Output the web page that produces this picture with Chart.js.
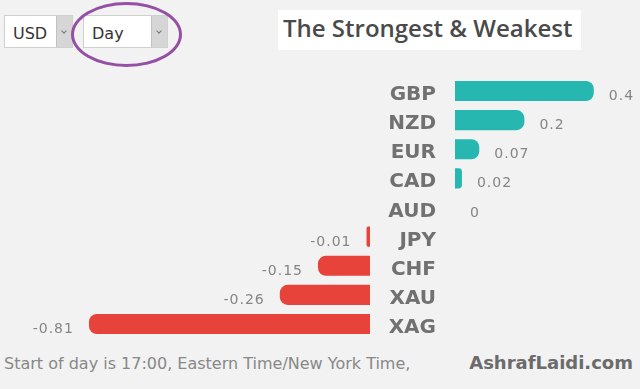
<!DOCTYPE html>
<html>
<head>
<meta charset="utf-8">
<script src="https://cdn.jsdelivr.net/npm/chart.js@4.4.1/dist/chart.umd.min.js"></script>
<style>
  body { margin: 0; width: 640px; height: 389px; overflow: hidden; position: relative; background: #f2f2f2; font-family: "DejaVu Sans", sans-serif; }
  .sel { position: absolute; top: 15px; height: 33px; background: #fff; border: 1px solid #d0d0d0; box-sizing: border-box; font-size: 16px; color: #333; line-height: 31px; padding: 2px 0 0 8px; }
  .sel .btn { position: absolute; top: 0; right: 0; width: 15px; height: 31px; background: #d6d6d6; border-left: 1px solid #c2c2c2; }
  .sel .btn i { position: absolute; left: 5px; top: 13px; width: 3px; height: 3px; border-right: 1px solid #777; border-bottom: 1px solid #777; transform: rotate(45deg); }
  #ring { position: absolute; left: 71px; top: 2px; width: 111px; height: 65px; border: 3px solid #9550a5; border-radius: 50%; box-sizing: border-box; }
  #title { position: absolute; left: 278px; top: 10px; width: 303px; height: 40px; background: #fff; font-family: "Open Sans", sans-serif; font-weight: 600; font-size: 24px; line-height: 36px; color: #4a4a4a; padding-left: 5px; box-sizing: border-box; white-space: nowrap; overflow: hidden; }
  #note { position: absolute; left: 4px; top: 354px; font-size: 16px; line-height: 20px; color: #888; white-space: nowrap; }
  #site { position: absolute; right: 7px; top: 352px; font-size: 18px; line-height: 22px; font-weight: bold; color: #6b6b6b; white-space: nowrap; }
  canvas { position: absolute; left: 0; top: 0; }
</style>
</head>
<body>
<div class="sel" style="left:4px; width:69px;">USD<div class="btn"><i></i></div></div>
<div class="sel" style="left:83px; width:85px;">Day<div class="btn"><i></i></div></div>
<div id="ring"></div>
<div id="title">The Strongest &amp; Weakest</div>
<div id="note">Start of day is 17:00, Eastern Time/New York Time,</div>
<div id="site">AshrafLaidi.com</div>
<canvas id="myChart" width="640" height="389"></canvas>
<script>
const currencies = ["GBP", "NZD", "EUR", "CAD", "AUD", "JPY", "CHF", "XAU", "XAG"];
const changes = [0.4, 0.2, 0.07, 0.02, 0, -0.01, -0.15, -0.26, -0.81];

const gains = changes.map(v => (v >= 0 ? v : null));
const losses = changes.map(v => (v < 0 ? v : null));

// widths of the three horizontal strips (negative bars | labels | positive bars)
const pxPerUnit = 347;
const negWidth = 370;
const gapWidth = 85;
const posWidth = 185;

const sideLabels = {
  id: "sideLabels",
  afterDatasetsDraw(chart) {
    const ctx = chart.ctx;
    const yScale = chart.scales.y;
    const gap = chart.scales.xGap;
    ctx.save();
    currencies.forEach((name, i) => {
      const cy = yScale.getPixelForValue(i);
      ctx.textBaseline = "alphabetic";
      ctx.letterSpacing = "0px";
      ctx.font = "bold 20px 'DejaVu Sans'";
      ctx.fillStyle = "#717171";
      ctx.textAlign = "right";
      ctx.fillText(name, gap.right - 19, cy + 9);

      const v = changes[i];
      ctx.font = "14px 'DejaVu Sans'";
      ctx.letterSpacing = "1px";
      ctx.fillStyle = "#858585";
      if (v >= 0) {
        ctx.textAlign = "left";
        ctx.fillText(String(v), chart.scales.xPos.getPixelForValue(v) + 15, cy + 9);
      } else {
        ctx.textAlign = "right";
        ctx.fillText(String(v), chart.scales.xNeg.getPixelForValue(v) - 15, cy + 9);
      }
    });
    ctx.restore();
  }
};

new Chart(document.getElementById("myChart"), {
  type: "bar",
  data: {
    labels: currencies,
    datasets: [
      { data: gains, xAxisID: "xPos", backgroundColor: "#26b8b0" },
      { data: losses, xAxisID: "xNeg", backgroundColor: "#e8433a" },
    ],
  },
  options: {
    indexAxis: "y",
    responsive: false,
    devicePixelRatio: 1,
    animation: false,
    layout: { padding: { top: 76.4, bottom: 50.4, left: 0, right: 0 } },
    datasets: {
      bar: {
        grouped: false,
        barPercentage: 0.69,
        categoryPercentage: 1,
        borderRadius: 8,
        borderSkipped: "start",
      },
    },
    plugins: { legend: { display: false }, tooltip: { enabled: false } },
    scales: {
      y: { display: false },
      xNeg: { axis: "x", type: "linear", position: "bottom", stack: "row", stackWeight: negWidth, min: -negWidth / pxPerUnit, max: 0, display: false },
      xGap: { axis: "x", type: "linear", position: "bottom", stack: "row", stackWeight: gapWidth, display: false },
      xPos: { axis: "x", type: "linear", position: "bottom", stack: "row", stackWeight: posWidth, min: 0, max: posWidth / pxPerUnit, display: false },
    },
  },
  plugins: [sideLabels],
});
</script>
</body>
</html>
